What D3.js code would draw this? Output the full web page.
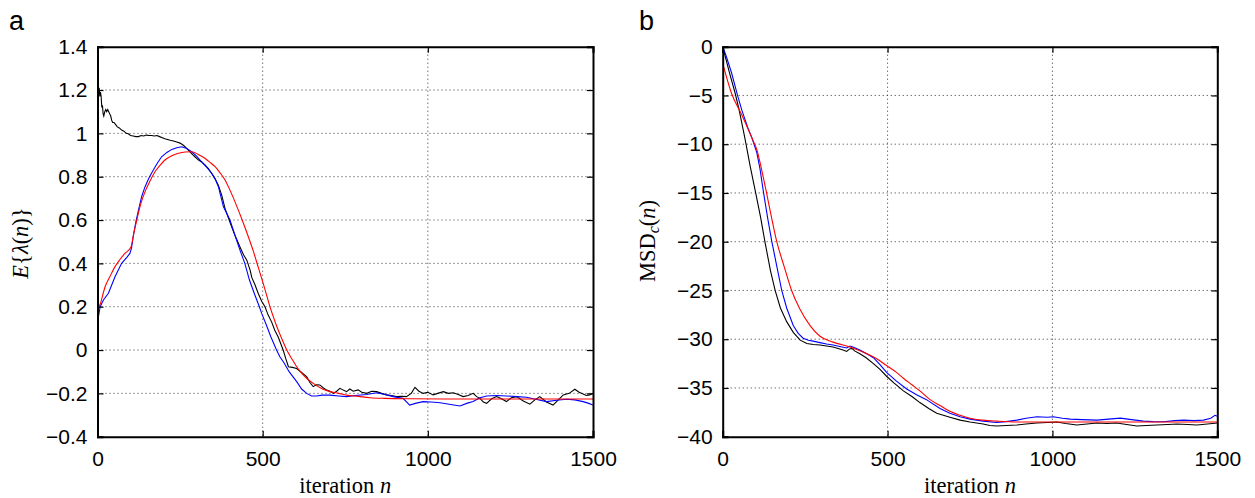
<!DOCTYPE html>
<html>
<head>
<meta charset="utf-8">
<script src="https://d3js.org/d3.v7.min.js"></script>
<style>
  body { margin: 0; background: #fff; }
  .tick text { font-family: "Liberation Sans", Arial, sans-serif; font-size: 21px; fill: #000; }
  .lbl { font-family: "Liberation Serif", "Times New Roman", serif; font-size: 22.5px; fill: #000; }
  .panel { font-family: "Liberation Sans", Arial, sans-serif; font-size: 27px; fill: #000; }
</style>
</head>
<body>
<script>
// ---- data ----
const xTicks = [0, 500, 1000, 1500];
const yTicksA = [-0.4, -0.2, 0, 0.2, 0.4, 0.6, 0.8, 1, 1.2, 1.4];
const yTicksB = [-40, -35, -30, -25, -20, -15, -10, -5, 0];

// panel a : E{lambda(n)}
const lambdaBlack = [[0,0.92],[1,1.22],[3,1.2],[5,1.21],[7,1.17],[9,1.19],[11,1.17],[13,1.12],[15,1.13],[17,1.09],[19,1.08],[22,1.1],[25,1.11],[28,1.1],[31,1.11],[34,1.1],[37,1.09],[40,1.08],[43,1.06],[46,1.05],[50,1.05],[55,1.04],[60,1.03],[66,1.025],[73,1.015],[80,1.01],[87,1.0],[93,0.998],[100,0.99],[108,0.988],[116,0.985],[124,0.985],[132,0.99],[140,0.988],[148,0.992],[156,0.99],[164,0.99],[172,0.988],[180,0.99],[188,0.985],[196,0.98],[204,0.975],[212,0.972],[220,0.968],[230,0.965],[240,0.96],[250,0.955],[260,0.945],[270,0.931],[280,0.915],[288,0.902],[295,0.892],[305,0.878],[315,0.868],[325,0.854],[335,0.838],[346,0.815],[356,0.79],[366,0.76],[376,0.715],[386,0.654],[401,0.59],[416,0.53],[431,0.477],[442,0.44],[452,0.415],[462,0.369],[467,0.335],[477,0.3],[487,0.26],[497,0.225],[507,0.2],[517,0.16],[527,0.13],[537,0.09],[547,0.06],[562,0.0],[570,-0.04],[578,-0.077],[590,-0.08],[603,-0.085],[615,-0.1],[633,-0.123],[643,-0.15],[653,-0.169],[663,-0.16],[673,-0.161],[684,-0.175],[694,-0.185],[704,-0.19],[714,-0.2],[724,-0.19],[734,-0.177],[744,-0.185],[754,-0.192],[764,-0.18],[774,-0.19],[789,-0.184],[800,-0.195],[815,-0.2],[830,-0.19],[845,-0.192],[860,-0.2],[875,-0.207],[890,-0.21],[905,-0.215],[920,-0.213],[935,-0.215],[950,-0.2],[961,-0.172],[973,-0.19],[986,-0.2],[1000,-0.195],[1016,-0.207],[1030,-0.2],[1047,-0.192],[1062,-0.2],[1077,-0.197],[1092,-0.205],[1107,-0.215],[1122,-0.21],[1137,-0.2],[1148,-0.215],[1158,-0.223],[1168,-0.24],[1178,-0.246],[1193,-0.225],[1208,-0.215],[1223,-0.225],[1238,-0.238],[1253,-0.22],[1269,-0.215],[1289,-0.235],[1309,-0.25],[1324,-0.23],[1339,-0.215],[1359,-0.24],[1379,-0.254],[1395,-0.23],[1410,-0.207],[1428,-0.2],[1445,-0.181],[1458,-0.195],[1470,-0.203],[1480,-0.21],[1490,-0.207],[1500,-0.2]];

const lambdaBlue = [[0,0.13],[2,0.146],[8,0.2],[18,0.231],[33,0.262],[53,0.338],[73,0.4],[90,0.43],[98,0.446],[103,0.47],[108,0.523],[116,0.59],[124,0.646],[134,0.71],[144,0.754],[156,0.795],[169,0.831],[181,0.862],[194,0.892],[210,0.912],[225,0.926],[240,0.934],[255,0.938],[270,0.93],[285,0.915],[300,0.895],[315,0.869],[330,0.845],[346,0.815],[356,0.79],[366,0.754],[381,0.662],[401,0.6],[416,0.53],[431,0.462],[446,0.4],[460,0.323],[475,0.26],[490,0.2],[497,0.169],[510,0.12],[525,0.06],[542,0.0],[552,-0.031],[565,-0.06],[580,-0.1],[603,-0.146],[618,-0.18],[633,-0.2],[648,-0.212],[663,-0.212],[680,-0.208],[704,-0.208],[730,-0.212],[754,-0.215],[780,-0.21],[815,-0.205],[845,-0.197],[870,-0.205],[895,-0.215],[925,-0.223],[945,-0.254],[965,-0.245],[986,-0.238],[1010,-0.24],[1037,-0.243],[1065,-0.25],[1097,-0.258],[1120,-0.245],[1137,-0.238],[1158,-0.22],[1178,-0.212],[1208,-0.21],[1238,-0.212],[1270,-0.215],[1299,-0.218],[1330,-0.228],[1359,-0.238],[1390,-0.232],[1420,-0.227],[1445,-0.23],[1470,-0.238],[1485,-0.245],[1500,-0.254]];

const lambdaRed = [[0,0],[1,0.1],[3,0.185],[10,0.22],[23,0.292],[38,0.34],[53,0.385],[68,0.418],[83,0.446],[101,0.474],[110,0.54],[119,0.6],[130,0.67],[144,0.731],[159,0.78],[174,0.823],[189,0.852],[204,0.877],[225,0.897],[245,0.908],[265,0.914],[285,0.915],[305,0.903],[325,0.885],[340,0.867],[356,0.846],[371,0.818],[386,0.785],[401,0.738],[420,0.67],[438,0.6],[455,0.53],[472,0.455],[487,0.38],[505,0.29],[522,0.2],[540,0.12],[557,0.055],[573,0.0],[588,-0.04],[603,-0.077],[620,-0.11],[636,-0.135],[653,-0.154],[678,-0.177],[704,-0.192],[730,-0.2],[754,-0.208],[790,-0.214],[825,-0.22],[870,-0.223],[950,-0.225],[1050,-0.226],[1200,-0.226],[1500,-0.226]];

// panel b : MSD_c(n) in dB
const msdBlack = [[0,0],[10,-1.3],[20,-2.6],[38,-4.8],[50,-6.5],[68,-9.5],[83,-12.2],[100,-15],[115,-17.5],[128,-20],[145,-23],[159,-25],[175,-26.8],[194,-28.2],[214,-29.3],[235,-30.1],[255,-30.45],[275,-30.55],[295,-30.6],[315,-30.7],[335,-30.8],[350,-30.95],[365,-31.1],[376,-31.25],[385,-31.0],[392,-30.95],[400,-31.2],[416,-31.5],[435,-31.9],[457,-32.5],[477,-33.1],[497,-33.8],[520,-34.5],[548,-35.3],[575,-35.9],[598,-36.5],[625,-37.1],[649,-37.6],[669,-37.8],[689,-38.0],[720,-38.3],[750,-38.5],[770,-38.6],[790,-38.7],[810,-38.85],[831,-38.9],[860,-38.85],[892,-38.8],[920,-38.7],[953,-38.6],[985,-38.55],[1013,-38.5],[1040,-38.65],[1074,-38.8],[1105,-38.7],[1135,-38.6],[1165,-38.65],[1195,-38.6],[1225,-38.75],[1256,-38.9],[1285,-38.85],[1317,-38.8],[1350,-38.75],[1378,-38.7],[1410,-38.75],[1438,-38.8],[1470,-38.7],[1500,-38.6]];

const msdBlue = [[0,0],[10,-0.9],[27,-2.7],[45,-5],[58,-6.5],[75,-8.2],[88,-9.3],[103,-10.8],[113,-12.5],[124,-15],[136,-17.5],[149,-20],[164,-22.5],[179,-25],[194,-26.8],[214,-28.6],[229,-29.4],[244,-29.9],[260,-30.1],[274,-30.2],[295,-30.35],[315,-30.5],[335,-30.6],[355,-30.75],[376,-30.9],[386,-30.7],[395,-30.8],[416,-31.1],[437,-31.5],[457,-31.9],[477,-32.6],[497,-33.4],[527,-34.3],[558,-35.1],[588,-35.7],[618,-36.2],[659,-37.1],[689,-37.6],[720,-37.95],[750,-38.2],[790,-38.4],[831,-38.55],[860,-38.45],[892,-38.3],[920,-38.1],[953,-37.95],[985,-38.0],[1003,-37.95],[1030,-38.1],[1054,-38.2],[1090,-38.25],[1135,-38.3],[1170,-38.2],[1206,-38.1],[1240,-38.25],[1276,-38.4],[1305,-38.45],[1337,-38.46],[1370,-38.35],[1398,-38.3],[1430,-38.35],[1458,-38.3],[1480,-38.1],[1493,-37.8],[1500,-37.9]];

const msdRed = [[0,-1.7],[27,-4.8],[58,-7.0],[93,-9.7],[103,-10.5],[118,-12.6],[133,-15],[148,-17.5],[164,-20],[186,-22.5],[209,-25],[234,-26.9],[265,-28.6],[295,-29.7],[335,-30.3],[386,-30.8],[437,-31.5],[467,-32.0],[497,-32.7],[527,-33.4],[548,-34.0],[575,-34.7],[598,-35.3],[629,-36.2],[659,-36.8],[689,-37.4],[720,-37.8],[750,-38.1],[790,-38.3],[831,-38.4],[900,-38.5],[1000,-38.5],[1100,-38.5],[1200,-38.5],[1300,-38.5],[1400,-38.5],[1500,-38.5]];

// ---- drawing ----
const W = 1255, H = 498;
const svg = d3.select("body").append("svg")
  .attr("width", W).attr("height", H);

const fmt = d => String(+d.toFixed(1)).replace("-", "\u2212");

function drawPanel(opt) {
  const g = svg.append("g").attr("transform", `translate(${opt.left},${opt.top})`);
  const w = opt.width, h = opt.height;

  const x = d3.scaleLinear().domain([0, 1500]).range([0, w]);
  const y = d3.scaleLinear().domain(opt.yDomain).range([h, 0]);

  // dotted grid
  g.append("g").selectAll("line")
    .data(xTicks.filter(t => t > 0 && t < 1500))
    .join("line")
    .attr("x1", d => x(d)).attr("x2", d => x(d))
    .attr("y1", 0).attr("y2", h)
    .attr("stroke", "#333").attr("stroke-width", 1).attr("stroke-dasharray", "1,3");
  g.append("g").selectAll("line")
    .data(opt.yTicks.filter(t => t > opt.yDomain[0] && t < opt.yDomain[1]))
    .join("line")
    .attr("x1", 0).attr("x2", w)
    .attr("y1", d => y(d)).attr("y2", d => y(d))
    .attr("stroke", "#333").attr("stroke-width", 1).attr("stroke-dasharray", "1,3");

  // curves
  const line = d3.line().x(d => x(d[0])).y(d => y(d[1]));
  const clipId = "clip" + opt.name;
  g.append("clipPath").attr("id", clipId)
    .append("rect").attr("width", w).attr("height", h);
  const curves = g.append("g").attr("clip-path", `url(#${clipId})`);
  opt.series.forEach(s => {
    curves.append("path")
      .datum(s.data)
      .attr("fill", "none")
      .attr("stroke", s.color)
      .attr("stroke-width", 1.1)
      .attr("d", line.curve(s.smooth ? d3.curveMonotoneX : d3.curveLinear));
  });

  // axes, ticks pointing inwards on all four sides
  g.append("g").attr("transform", `translate(0,${h})`)
    .call(d3.axisBottom(x).tickValues(xTicks).tickSize(-6).tickPadding(14).tickFormat(fmt));
  g.append("g")
    .call(d3.axisTop(x).tickValues(xTicks).tickSize(-6).tickFormat(""));
  g.append("g")
    .call(d3.axisLeft(y).tickValues(opt.yTicks).tickSize(-6).tickPadding(10).tickFormat(fmt));
  g.append("g").attr("transform", `translate(${w},0)`)
    .call(d3.axisRight(y).tickValues(opt.yTicks).tickSize(-6).tickFormat(""));
  g.selectAll(".domain").attr("stroke", "#000").attr("stroke-width", 2);
  g.selectAll(".tick line").attr("stroke", "#000").attr("stroke-width", 1.2);

  // x label
  const xl = g.append("text").attr("class", "lbl")
    .attr("x", w / 2).attr("y", h + 56.5).attr("text-anchor", "middle");
  xl.append("tspan").text("iteration ");
  xl.append("tspan").attr("font-style", "italic").text("n");

  // panel letter
  svg.append("text").attr("class", "panel")
    .attr("x", opt.letterX).attr("y", 29.5).text(opt.name);

  return g;
}

const gA = drawPanel({
  name: "a", left: 97.5, top: 46.7, width: 495.5, height: 390,
  yDomain: [-0.4, 1.4], yTicks: yTicksA, letterX: 9,
  series: [
    { data: lambdaBlack, color: "#000" },
    { data: lambdaBlue, color: "#0000ff" },
    { data: lambdaRed, color: "#ff0000", smooth: true }
  ]
});

const gB = drawPanel({
  name: "b", left: 722.7, top: 46.7, width: 494.6, height: 390,
  yDomain: [-40, 0], yTicks: yTicksB, letterX: 639,
  series: [
    { data: msdBlack, color: "#000" },
    { data: msdBlue, color: "#0000ff" },
    { data: msdRed, color: "#ff0000", smooth: true }
  ]
});

// y labels
const ya = svg.append("text").attr("class", "lbl")
  .attr("font-size", "21px")
  .attr("transform", "translate(28,243) rotate(-90)")
  .attr("text-anchor", "middle");
ya.append("tspan").attr("font-style", "italic").text("E");
ya.append("tspan").text("{");
ya.append("tspan").attr("font-style", "italic").text("\u03bb");
ya.append("tspan").text("(");
ya.append("tspan").attr("font-style", "italic").text("n");
ya.append("tspan").text(")}");

const yb = svg.append("text").attr("class", "lbl")
  .attr("font-size", "22.5px")
  .attr("transform", "translate(655,241) rotate(-90)")
  .attr("text-anchor", "middle");
yb.append("tspan").text("MSD");
yb.append("tspan").attr("font-style", "italic").attr("font-size", "16px").attr("dy", 4).text("c");
yb.append("tspan").attr("dy", -4).text("(");
yb.append("tspan").attr("font-style", "italic").text("n");
yb.append("tspan").text(")");
</script>
</body>
</html>
